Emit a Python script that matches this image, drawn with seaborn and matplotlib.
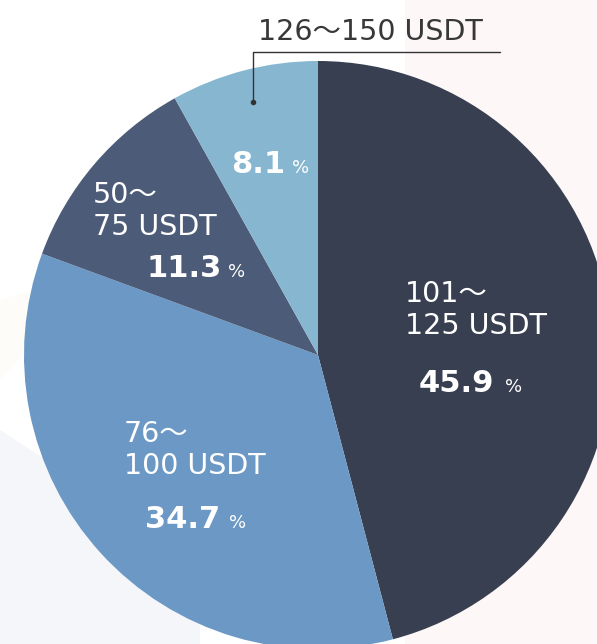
import matplotlib
matplotlib.use("Agg")
import matplotlib.pyplot as plt
import seaborn as sns

# ---- data ----
categories = ["101～\n125 USDT", "76～\n100 USDT", "50～\n75 USDT", "126～150 USDT"]
shares = [45.9, 34.7, 11.3, 8.1]
colors = ["#383f50", "#6b98c5", "#4c5b77", "#86b6d0"]

sns.set_theme(style="white")
plt.rcParams["font.family"] = ["DejaVu Sans", "Noto Sans CJK JP"]

W, H = 597, 644
fig = plt.figure(figsize=(W / 100, H / 100), dpi=100)
ax = fig.add_axes([0, 0, 1, 1])

def Y(y):
    return H - y

# faint background decoration
ax.fill([405, 597, 597, 405], [Y(0), Y(0), Y(644), Y(644)], color="#fdf7f8", zorder=0, lw=0)
ax.fill([0, 200, 200, 0], [Y(430), Y(560), Y(644), Y(644)], color="#f4f6f9", zorder=0, lw=0)
ax.fill([0, 100, 0], [Y(300), Y(270), Y(380)], color="#fdfcf8", zorder=0, lw=0)

cx, cy, r = 318, 355, 294
ax.pie(shares, colors=colors, startangle=90, counterclock=False,
       center=(cx, Y(cy)), radius=r,
       wedgeprops=dict(linewidth=0))

ax.set_xlim(0, W)
ax.set_ylim(0, H)
ax.set_aspect("equal")
ax.axis("off")

white = "white"
name_fs = 20.5
pct_fs = 22
sign_fs = 13

# inside labels: (name x, first-line baseline y, pct x, pct baseline y)
inside = {
    0: (405, 302, 419, 392),
    1: (124, 442, 145, 528),
    2: (93, 203, 147, 277),
}
for i, (nx, ny, px, py) in inside.items():
    lines = categories[i].split("\n")
    for k, line in enumerate(lines):
        ax.text(nx, Y(ny + 32 * k), line, color=white, fontsize=name_fs,
                ha="left", va="baseline")
    ax.text(px, Y(py), f"{shares[i]:.1f}", color=white, fontsize=pct_fs,
            fontweight="bold", ha="left", va="baseline")
# percent signs
sign_pos = {0: (505, 392), 1: (229, 528), 2: (228, 277), 3: (292, 173)}
for i, (sx, sy) in sign_pos.items():
    ax.text(sx, Y(sy), "%", color=white, fontsize=sign_fs,
            ha="left", va="baseline")

# smallest slice: value inside, name outside with leader
ax.text(231, Y(173), f"{shares[3]:.1f}", color=white, fontsize=pct_fs,
        fontweight="bold", ha="left", va="baseline")
ax.text(258, Y(40), categories[3], color="#383838", fontsize=name_fs,
        ha="left", va="baseline")
ax.plot([500, 253, 253], [Y(52), Y(52), Y(102)], color="#333333", lw=1.0)
ax.plot([253], [Y(102)], marker="o", ms=3, color="#333333")

fig.savefig("out.png", dpi=100)
